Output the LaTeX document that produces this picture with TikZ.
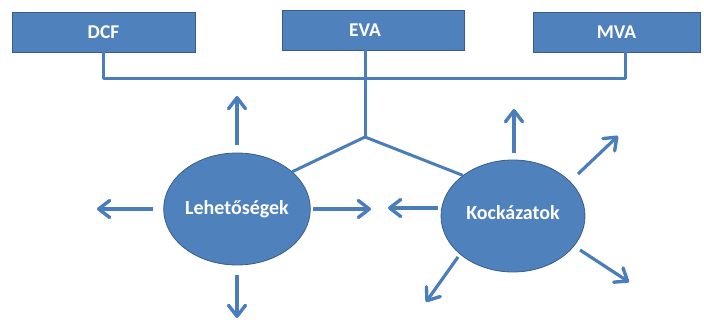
\documentclass[tikz,border=0pt]{standalone}
\usepackage{fontspec}
\setmainfont{Carlito}
\usetikzlibrary{arrows.meta,shapes.geometric,calc}
\definecolor{boxblue}{HTML}{4F81BD}
\definecolor{edgeblue}{HTML}{385D8A}
\definecolor{linkblue}{HTML}{4A7EBB}
\begin{document}
\begin{tikzpicture}[x=1pt,y=-1pt,
  topbox/.style={rectangle,fill=boxblue,draw=edgeblue,line width=0.8pt,
    minimum width=#1,minimum height=40pt,inner sep=0pt,
    text=white,font=\bfseries\fontsize{19.5}{22}\selectfont},
  blob/.style={ellipse,fill=boxblue,draw=edgeblue,line width=0.8pt,
    minimum width=144pt,minimum height=112pt,inner sep=0pt,
    text=white,font=\bfseries\fontsize{20}{22}\selectfont},
  link/.style={draw=linkblue,line width=3pt},
  ray/.style={draw=linkblue,line width=3.2pt,
    -{Straight Barb[length=11pt,width=17pt,line width=3.4pt,round]}}]
\useasboundingbox (0,0) rectangle (704,320);

% top row of measures
\node[topbox=183pt] (dcf) at (103.5,32) {\raisebox{-1pt}{DCF}};
\node[topbox=182pt] (eva) at (373,30) {\makebox[0pt]{EVA}\hspace*{16pt}};
\node[topbox=167pt] (mva) at (616.5,32) {\raisebox{-1pt}{MVA}};

% the two drivers
\node[blob] (leh) at (237,209) {\raisebox{4pt}{Lehetőségek}};
\node[blob] (koc) at (513,216) {\raisebox{8pt}{Kockázatok}};

% bus linking the measures
\coordinate (dcfdrop) at (103,52);
\coordinate (evadrop) at (365,50);
\coordinate (mvadrop) at (625,52);
\coordinate (busmid) at (365,79);
\coordinate (fork) at (365,137);
\draw[link,line join=round] (dcfdrop) |- (busmid) -| (mvadrop);
\draw[link] (evadrop) -- (fork);
\draw[link,line join=round] (leh.34) -- (fork) -- (koc.141);

% arrows around Lehetőségek
\coordinate (l1a) at (237,145); \coordinate (l1b) at (237,96);
\coordinate (l2a) at (153,209); \coordinate (l2b) at (97,209);
\coordinate (l3a) at (313,209); \coordinate (l3b) at (371,209);
\coordinate (l4a) at (237,275); \coordinate (l4b) at (237,318);
\draw[ray] (l1a) -- (l1b);
\draw[ray] (l2a) -- (l2b);
\draw[ray] (l3a) -- (l3b);
\draw[ray] (l4a) -- (l4b);

% arrows around Kockázatok
\coordinate (k1a) at (438,208); \coordinate (k1b) at (388,208);
\coordinate (k2a) at (514,153); \coordinate (k2b) at (514,109);
\coordinate (k3a) at (578,174); \coordinate (k3b) at (618,136);
\coordinate (k4a) at (458,257); \coordinate (k4b) at (426,302);
\coordinate (k5a) at (580,250); \coordinate (k5b) at (629,282);
\draw[ray] (k1a) -- (k1b);
\draw[ray] (k2a) -- (k2b);
\draw[ray] (k3a) -- (k3b);
\draw[ray] (k4a) -- (k4b);
\draw[ray] (k5a) -- (k5b);
\end{tikzpicture}
\end{document}
